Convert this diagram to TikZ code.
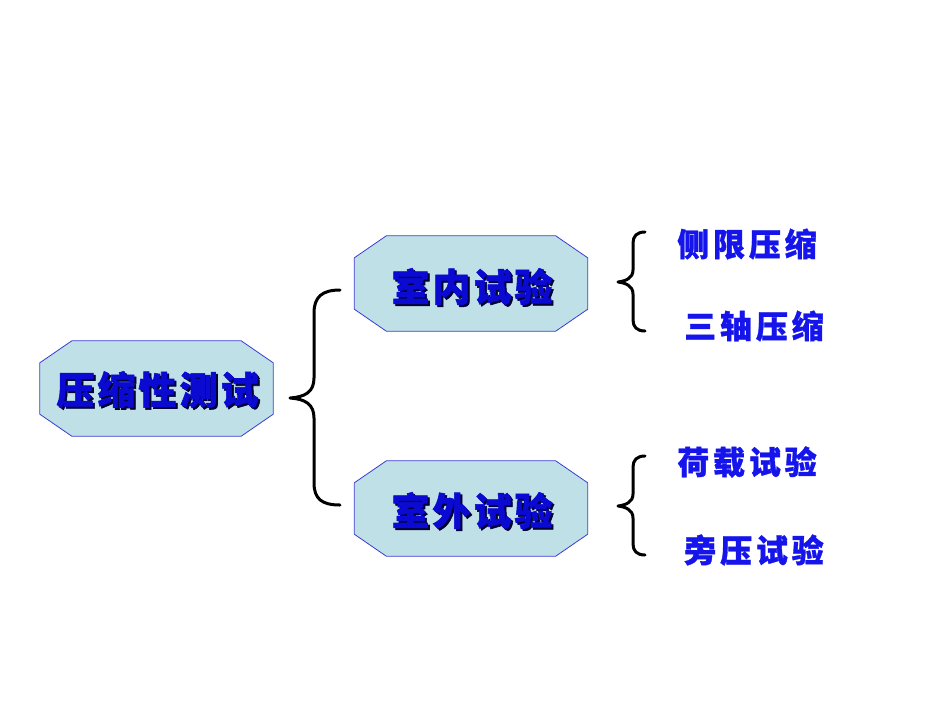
\documentclass[tikz,border=0pt]{standalone}
\usepackage{fontspec}
\newfontfamily\cjkbig[LetterSpace=8, BoldFeatures={FakeBold=1.5}]{Noto Sans CJK SC}
\newfontfamily\cjksmall[LetterSpace=12, BoldFeatures={FakeBold=1}]{Noto Sans CJK SC}
\definecolor{octfill}{RGB}{190,224,230}
\definecolor{octline}{RGB}{60,60,210}
\definecolor{txtblue}{RGB}{10,10,210}
\definecolor{shadowc}{RGB}{0,0,50}
\definecolor{subblue}{RGB}{20,20,235}
\newcommand\shtext[1]{\leavevmode\rlap{\kern2pt\raisebox{-2pt}{\textcolor{shadowc}{#1}}}#1}
\newcommand\octagon[1]{%
  \path[fill=octfill, draw=octline, line width=0.8pt]
    ([xshift=32pt]#1.north west) -- ([xshift=-32pt]#1.north east)
    -- ([yshift=-22pt]#1.north east) -- ([yshift=22pt]#1.south east)
    -- ([xshift=-32pt]#1.south east) -- ([xshift=32pt]#1.south west)
    -- ([yshift=22pt]#1.south west) -- ([yshift=-22pt]#1.north west) -- cycle;}
\tikzset{
  octbox/.style={rectangle, minimum width=233pt, minimum height=95pt, inner sep=0pt},
  bigtxt/.style={text=txtblue, font=\cjkbig\bfseries\fontsize{38}{44}\selectfont, inner sep=0pt},
  subtxt/.style={text=subblue, font=\cjksmall\bfseries\fontsize{32}{36}\selectfont, inner sep=0pt},
  bracepen/.style={line width=3pt, draw=black, line cap=round, line join=round}
}
\begin{document}
\begin{tikzpicture}[x=1pt,y=-1pt]
\useasboundingbox (0,0) rectangle (950,713);
\fill[white] (0,0) rectangle (950,713);
% octagon frames
\node[octbox] (root) at (156.5,388.5) {};
\node[octbox] (indoor) at (471,283.5) {};
\node[octbox] (outdoor) at (471,508.5) {};
\octagon{root}
\octagon{indoor}
\octagon{outdoor}
% texts with shadow
\node[bigtxt] (rootT) at ([xshift=1pt,yshift=-2pt]root.center) {\shtext{压缩性测试}};
\node[bigtxt] (inT) at ([xshift=1pt,yshift=-4pt]indoor.center) {\shtext{室内试验}};
\node[bigtxt] (outT) at ([xshift=1pt,yshift=-3pt]outdoor.center) {\shtext{室外试验}};
% sub items
\node[subtxt] (s1) at (747,244) {侧限压缩};
\node[subtxt] (s2) at (754,326) {三轴压缩};
\node[subtxt] (s3) at (747,462) {荷载试验};
\node[subtxt] (s4) at (754,550) {旁压试验};
% big brace
\coordinate (bt) at (340,290);
\coordinate (bm) at (290,398);
\coordinate (bb) at (340,505);
\draw[bracepen] (bt) .. controls (322,290) and (314,297) .. (314,313) -- (314,378)
  .. controls (314,392) and (305,397) .. (bm)
  .. controls (305,399) and (314,404) .. (314,418) -- (314,483)
  .. controls (314,499) and (322,505) .. (bb);
% small braces
\coordinate (ut) at (645,232);
\coordinate (um) at (618,282);
\coordinate (ub) at (645,331);
\draw[bracepen] (ut) .. controls (637,232) and (633,236) .. (633,243) -- (633,270)
  .. controls (633,278) and (626,281) .. (um)
  .. controls (626,283) and (633,286) .. (633,294) -- (633,320)
  .. controls (633,327) and (637,331) .. (ub);
\coordinate (lt) at (645,456);
\coordinate (lm) at (618,506);
\coordinate (lb) at (645,555);
\draw[bracepen] (lt) .. controls (637,456) and (633,460) .. (633,467) -- (633,494)
  .. controls (633,502) and (626,505) .. (lm)
  .. controls (626,507) and (633,510) .. (633,518) -- (633,544)
  .. controls (633,551) and (637,555) .. (lb);
\end{tikzpicture}
\end{document}
